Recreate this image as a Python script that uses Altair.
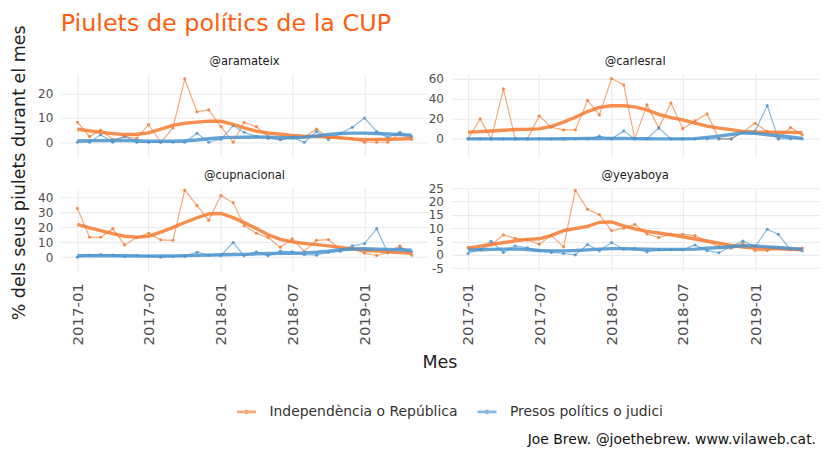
import altair as alt
import pandas as pd

# ---------------------------------------------------------------
# Data (% of each account's tweets per month)
# ---------------------------------------------------------------
MESOS = [
    "2017-01", "2017-02", "2017-03", "2017-04", "2017-05", "2017-06",
    "2017-07", "2017-08", "2017-09", "2017-10", "2017-11", "2017-12",
    "2018-01", "2018-02", "2018-03", "2018-04", "2018-05", "2018-06",
    "2018-07", "2018-08", "2018-09", "2018-10", "2018-11", "2018-12",
    "2019-01", "2019-02", "2019-03", "2019-04", "2019-05",
]
TICK_MESOS = [(2017, 1), (2017, 7), (2018, 1), (2018, 7), (2019, 1)]

SERIES = ["Independència o República", "Presos polítics o judici"]

ARAMATEIX_INDEP = [8.2, 2.3, 5.0, 1.1, 2.3, 1.6, 7.2, 0, 5.9, 26.0,
                   12.5, 13.3, 6.4, 0, 8.2, 6.4, 2.3, 1.1, 2.0, 2.0,
                   5.4, 1.9, 1.8, 1.4, 0, 0, 0, 3.7, 1.2]
ARAMATEIX_PRESOS = [0, 0, 3.1, 0, 2.6, 0, 0, 0, 0, 0,
                    3.7, 0, 1.2, 6.8, 4.1, 2.3, 1.6, 1.0, 2.0, 0,
                    4.4, 1.1, 3.7, 6.1, 9.9, 4.4, 1.9, 4.1, 2.3]

CARLESRAL_INDEP = [0, 20, 0, 50, 0, 0, 23, 11.6, 9, 9,
                   38.5, 24, 60.4, 54, 0, 34, 11, 36, 10.2, 18,
                   25, 0, 0, 7, 15.6, 7.3, 0, 11.3, 4]
CARLESRAL_PRESOS = [0, 0, 0, 0, 0, 0, 0, 0, 0, 0,
                    0, 2.7, 0, 8, 0, 0, 11, 0, 0, 0,
                    0, 0, 0, 7, 8, 33.4, 0, 0, 0]

CUPNACIONAL_INDEP = [32.7, 13.3, 13.3, 19.1, 8.2, 13.1, 16, 11.6, 11.3, 44.9,
                     34.7, 24.7, 41.3, 36.4, 21.1, 16, 13.1, 6.7, 12.2, 3.8,
                     11.3, 11.8, 4.9, 5.8, 2.7, 1.1, 3.1, 7.6, 1.3]
CUPNACIONAL_PRESOS = [0, 1.3, 1.8, 1.3, 0.4, 1.1, 0.7, 0, 0.4, 0.4,
                      3.3, 1.3, 1.1, 9.8, 0.9, 3.6, 0.9, 4, 3.6, 1.6,
                      1.3, 3.1, 4, 7.6, 9.1, 19.1, 2.9, 6.2, 3.6]

YEYABOYA_INDEP = [2.7, 1.9, 3.7, 7.5, 6.2, 5.6, 4.0, 7.3, 3.0, 24.2,
                  17.1, 15.1, 9.1, 10.0, 11.5, 7.8, 6.5, 7.8, 7.7, 7.2,
                  5.0, 3.1, 2.5, 4.4, 1.6, 1.6, 2.5, 1.9, 2.5]
YEYABOYA_PRESOS = [0.5, 2.1, 5.1, 0.9, 3.4, 2.6, 1.6, 0.9, 0.5, 0,
                   3.9, 1.5, 4.6, 2.1, 2.4, 1.1, 1.9, 1.9, 1.9, 3.7,
                   1.6, 0.8, 3.1, 5.2, 3.1, 9.6, 7.7, 1.9, 1.5]

# handle, indep, presos, y-domain, y-ticks
PANELS = [
    ("@aramateix", ARAMATEIX_INDEP, ARAMATEIX_PRESOS, [-5.84, 28.04], [0, 10, 20]),
    ("@carlesral", CARLESRAL_INDEP, CARLESRAL_PRESOS, [-17.6, 65.0], [0, 20, 40, 60]),
    ("@cupnacional", CUPNACIONAL_INDEP, CUPNACIONAL_PRESOS, [-9.13, 46.2], [0, 10, 20, 30, 40]),
    ("@yeyaboya", YEYABOYA_INDEP, YEYABOYA_PRESOS, [-5.97, 25.0], [-5, 0, 5, 10, 15, 20, 25]),
]

CAPTION = "Joe Brew. @joethebrew. www.vilaweb.cat."

ORANGE = "#F47A30"
BLUE = "#4A93CE"
FONT = "DejaVu Sans"

rows = []
for handle, indep, presos, _, _ in PANELS:
    for mes, a, b in zip(MESOS, indep, presos):
        rows.append({"handle": handle, "mes": mes, "serie": SERIES[0], "valor": a})
        rows.append({"handle": handle, "mes": mes, "serie": SERIES[1], "valor": b})
df = pd.DataFrame(rows)

PANEL_W = 370
PANEL_H = 83

# line with a dot in the middle, like the ggplot key
KEY_SYMBOL = "M-1,0L1,0M-0.1,0A0.1,0.1 0 1,1 0.1,0A0.1,0.1 0 1,1 -0.1,0"

LEGEND = alt.Legend(
    title=None, orient="none", legendX=176, legendY=329, direction="horizontal",
    symbolType=KEY_SYMBOL, symbolSize=361, symbolStrokeWidth=3,
    labelFontSize=14, labelColor="#333333", labelFont=FONT, labelLimit=0,
    labelOffset=12, columnPadding=13,
)


def build_panel(idx):
    handle, _, _, y_domain, y_ticks = PANELS[idx]
    row, col = divmod(idx, 2)

    x_axis_args = dict(
        values=[alt.DateTime(year=y, month=m, date=1) for y, m in TICK_MESOS],
        format="%Y-%m", labelAngle=-90, labels=(row == 1), labelFontSize=15,
        labelPadding=12, title=None,
    )
    if row == 1 and col == 0:
        x_axis_args.update(title="Mes", titleX=381, titleY=92.5, titleBaseline="middle",
                           titleAlign="center", titleFontSize=17.6, titleFontWeight="normal",
                           titleColor="#222222")
    y_axis_args = dict(values=y_ticks, labelExpr="'' + datum.value", labelFontSize=12,
                       labelPadding=8, title=None)
    if row == 0 and col == 0:
        y_axis_args.update(title="% dels seus piulets durant el mes", titleX=-41.5, titleY=99,
                           titleAngle=270, titleBaseline="middle", titleAlign="center",
                           titleFontSize=17.6, titleFontWeight="normal", titleColor="#222222")

    x = alt.X("t:T", scale=alt.Scale(domain=[
        alt.DateTime(year=2016, month=11, date=19, hours=12),
        alt.DateTime(year=2019, month=6, date=12, hours=12)], nice=False),
        axis=alt.Axis(**x_axis_args))
    y = alt.Y("valor:Q", scale=alt.Scale(domain=y_domain, nice=False, zero=False),
              axis=alt.Axis(**y_axis_args))
    color = alt.Color("serie:N", scale=alt.Scale(domain=SERIES, range=[ORANGE, BLUE]),
                      legend=LEGEND)

    base = (
        alt.Chart(df)
        .transform_filter(alt.datum.handle == handle)
        .transform_calculate(
            t="time(datetime(toNumber(substring(datum.mes, 0, 4)), "
              "toNumber(substring(datum.mes, 5, 7)) - 1, 1))"
        )
    )
    raw = base.mark_line(
        strokeWidth=1.2, opacity=0.65, clip=True,
        point=alt.OverlayMarkDef(filled=True, size=10, opacity=0.8),
    ).encode(x=x, y=y, color=color)
    smooth = (
        base.transform_loess("t", "valor", groupby=["serie"], bandwidth=0.35)
        .mark_line(strokeWidth=3.4, opacity=0.85, clip=True)
        .encode(x=x, y=y, color=color)
    )
    # facet label above the panel
    label = alt.Chart(pd.DataFrame({"handle": [handle]})).mark_text(
        align="center", baseline="middle", fontSize=11.6, font=FONT, color="#1A1A1A"
    ).encode(text="handle:N", x=alt.value(PANEL_W / 2), y=alt.value(-12.3))
    layers = [raw, smooth, label]
    if idx == 3:
        cap = alt.Chart(pd.DataFrame({"text": [CAPTION]})).mark_text(
            align="right", baseline="middle", fontSize=14, font=FONT, color="#111111"
        ).encode(text="text:N", x=alt.value(367), y=alt.value(253))
        layers.append(cap)
    return alt.layer(*layers).properties(width=PANEL_W, height=PANEL_H)


chart = (
    alt.concat(*[build_panel(i) for i in range(4)], columns=2,
               spacing=alt.RowColnumber(row=32, column=23), bounds="flush")
    .properties(
        title=alt.TitleParams("Piulets de polítics de la CUP", anchor="start", frame="group",
                              fontSize=24, fontWeight="normal", color="#FF5E0E", font=FONT,
                              offset=-11),
        padding={"left": 2, "top": 2, "right": 2, "bottom": 2},
    )
    .configure(font=FONT)
    .configure_view(stroke=None)
    .configure_axis(gridColor="#EBEBEB", gridWidth=1.1, domain=False, ticks=False,
                    tickSize=0, labelColor="#4D4D4D", labelFont=FONT, titleFont=FONT)
)

chart.save("out.html", embed_options={"renderer": "svg", "actions": False})
